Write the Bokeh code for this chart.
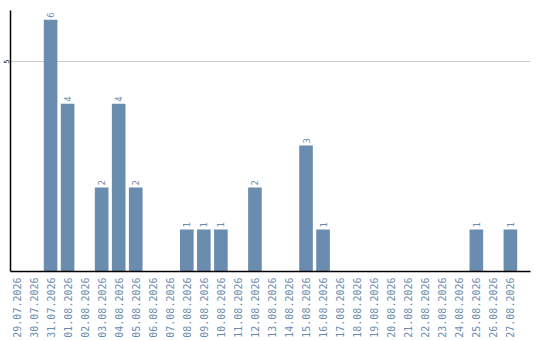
import math
from bokeh.plotting import figure
from bokeh.models import ColumnDataSource, Range1d, FixedTicker
from bokeh.core.properties import value
from bokeh.embed import file_html
from bokeh.resources import INLINE

dates = ["29.07.2026", "30.07.2026", "31.07.2026", "01.08.2026", "02.08.2026",
         "03.08.2026", "04.08.2026", "05.08.2026", "06.08.2026", "07.08.2026",
         "08.08.2026", "09.08.2026", "10.08.2026", "11.08.2026", "12.08.2026",
         "13.08.2026", "14.08.2026", "15.08.2026", "16.08.2026", "17.08.2026",
         "18.08.2026", "19.08.2026", "20.08.2026", "21.08.2026", "22.08.2026",
         "23.08.2026", "24.08.2026", "25.08.2026", "26.08.2026", "27.08.2026"]
counts = [0, 0, 6, 4, 0, 2, 4, 2, 0, 0, 1, 1, 1, 0, 2, 0, 0, 3, 1, 0,
          0, 0, 0, 0, 0, 0, 0, 1, 0, 1]

BAR = "#6a8caf"
LABEL = "#6a8caf"

xs = list(range(len(dates)))
src = ColumnDataSource(dict(x=xs, y=counts))
nz = [i for i, c in enumerate(counts) if c > 0]
lab = ColumnDataSource(dict(x=[xs[i] for i in nz], y=[counts[i] for i in nz],
                            t=[str(counts[i]) for i in nz]))

p = figure(width=540, height=340, output_backend="svg", toolbar_location=None,
           x_range=Range1d(-0.353, 30.18), y_range=Range1d(0, 6.22),
           min_border_left=0, min_border_right=10, min_border_top=10,
           min_border_bottom=0)
p.outline_line_color = None
p.background_fill_color = "white"

p.vbar(x="x", top="y", width=0.8, source=src, color=BAR, line_color=None)
p.text(x="x", y="y", text="t", source=lab, angle=math.pi / 2,
       text_align="left", text_baseline="middle", x_offset=0, y_offset=-2,
       text_color=LABEL, text_font=value("DejaVu Sans Mono"),
       text_font_size="9px")

# x axis: one tick per day, labels rotated
p.xaxis.ticker = FixedTicker(ticks=xs)
p.xaxis.major_label_overrides = {i: d for i, d in enumerate(dates)}
p.xaxis.major_label_orientation = math.pi / 2
p.xaxis.major_label_text_font = "DejaVu Sans Mono"
p.xaxis.major_label_text_font_size = "10px"
p.xaxis.major_label_text_color = LABEL
p.xaxis.major_label_standoff = 6
p.xaxis.major_tick_out = 0
p.xaxis.major_tick_in = 0
p.xaxis.major_tick_line_color = None
p.xaxis.minor_tick_line_color = None
p.xaxis.axis_line_color = "black"
p.xaxis.axis_line_width = 1.5
p.xgrid.grid_line_color = None

# y axis: a single tick at 5
p.yaxis.ticker = FixedTicker(ticks=[5])
p.yaxis.major_label_orientation = "vertical"
p.yaxis.major_label_text_font = "DejaVu Sans Mono"
p.yaxis.major_label_text_font_size = "7px"
p.yaxis.major_label_text_color = "black"
p.yaxis.major_label_standoff = 1
p.yaxis.major_tick_out = 0
p.yaxis.major_tick_in = 0
p.yaxis.major_tick_line_color = None
p.yaxis.minor_tick_line_color = None
p.yaxis.axis_line_color = "black"
p.yaxis.axis_line_width = 1.5
p.ygrid.ticker = FixedTicker(ticks=[5])
p.ygrid.grid_line_color = "#cccccc"

open("out.html", "w").write(file_html(p, INLINE))
